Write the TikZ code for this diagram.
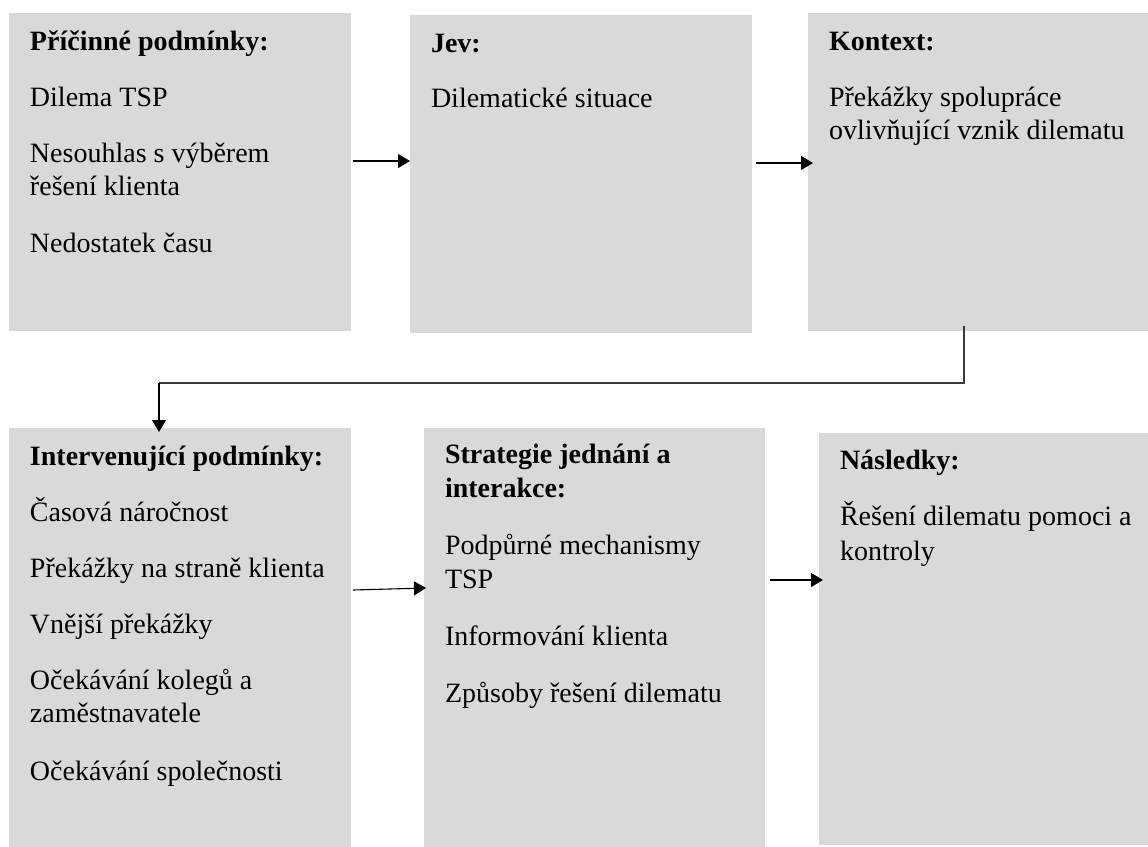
\documentclass[tikz,border=0pt]{standalone}
\usepackage{fontspec}
\setmainfont{Liberation Serif}
\usetikzlibrary{arrows.meta}
\definecolor{boxgray}{HTML}{D9D9D9}
\definecolor{linegray}{HTML}{3A3A3A}
\tikzset{
  box/.style={fill=boxgray, draw=none, anchor=north west, inner sep=0pt, outer sep=0pt},
  txt/.style={anchor=base west, inner sep=0pt, outer sep=0pt, font=\fontsize{14}{16}\selectfont},
  ttl/.style={txt, font=\fontsize{14}{16}\selectfont\bfseries},
  arr/.style={line width=0.55pt, -{Triangle[length=6pt,width=7pt]}},
}
\begin{document}
\begin{tikzpicture}[x=0.5pt, y=-0.5pt]
\useasboundingbox (0,0) rectangle (1148,847);
% boxes
\node[box, minimum width=171pt, minimum height=159pt] (b1) at (9,13) {};
\node[box, minimum width=171pt, minimum height=159pt] (b2) at (410,15) {};
\node[box, minimum width=170pt, minimum height=159pt] (b3) at (808,13) {};
\node[box, minimum width=171pt, minimum height=209.5pt] (b4) at (9,428) {};
\node[box, minimum width=170.5pt, minimum height=209.5pt] (b5) at (424,428) {};
\node[box, minimum width=164.5pt, minimum height=206pt] (b6) at (819,433) {};
% box 1
\node[ttl] (t1a) at (30,50) {Příčinné podmínky:};
\node[txt] (t1b) at (30,106) {Dilema TSP};
\node[txt] (t1c) at (30,162) {Nesouhlas s výběrem};
\node[txt] (t1d) at (30,195) {řešení klienta};
\node[txt] (t1e) at (30,252) {Nedostatek času};
% box 2
\node[ttl] (t2a) at (431,52) {Jev:};
\node[txt] (t2b) at (431,107) {Dilematické situace};
% box 3
\node[ttl] (t3a) at (829,50) {Kontext:};
\node[txt] (t3b) at (829,106) {Překážky spolupráce};
\node[txt] (t3c) at (829,139) {ovlivňující vznik dilematu};
% box 4
\node[ttl] (t4a) at (30,465) {Intervenující podmínky:};
\node[txt] (t4b) at (30,521) {Časová náročnost};
\node[txt] (t4c) at (30,577) {Překážky na straně klienta};
\node[txt] (t4d) at (30,633) {Vnější překážky};
\node[txt] (t4e) at (30,689) {Očekávání kolegů a};
\node[txt] (t4f) at (30,722) {zaměstnavatele};
\node[txt] (t4g) at (30,780) {Očekávání společnosti};
% box 5
\node[ttl] (t5a) at (445,463) {Strategie jednání a};
\node[ttl] (t5b) at (445,497) {interakce:};
\node[txt] (t5c) at (445,554) {Podpůrné mechanismy};
\node[txt] (t5d) at (445,588) {TSP};
\node[txt] (t5e) at (445,645) {Informování klienta};
\node[txt] (t5f) at (445,702) {Způsoby řešení dilematu};
% box 6
\node[ttl] (t6a) at (840,469) {Následky:};
\node[txt] (t6b) at (840,525) {Řešení dilematu pomoci a};
\node[txt] (t6c) at (840,560) {kontroly};
% connector points
\coordinate (p1s) at (353,161);
\coordinate (p2s) at (756,163);
\coordinate (p2e) at (813,163);
\coordinate (p3s) at (353,590);
\coordinate (p3e) at (426,588);
\coordinate (p4s) at (770,580);
\coordinate (p4e) at (823,580);
\coordinate (e1) at (964,326);
\coordinate (e2) at (964,383);
\coordinate (e3) at (159,383);
\coordinate (e4) at (159,432);
% connectors
\draw[arr] (p1s) -- (p1s -| b2.west);
\draw[arr] (p2s) -- (p2e);
\draw[arr] (p3s) -- (p3e);
\draw[arr] (p4s) -- (p4e);
\draw[line width=0.55pt, draw=linegray] (e1) -- (e2) -- (e3);
\draw[arr] (e3) -- (e4);
\end{tikzpicture}
\end{document}
